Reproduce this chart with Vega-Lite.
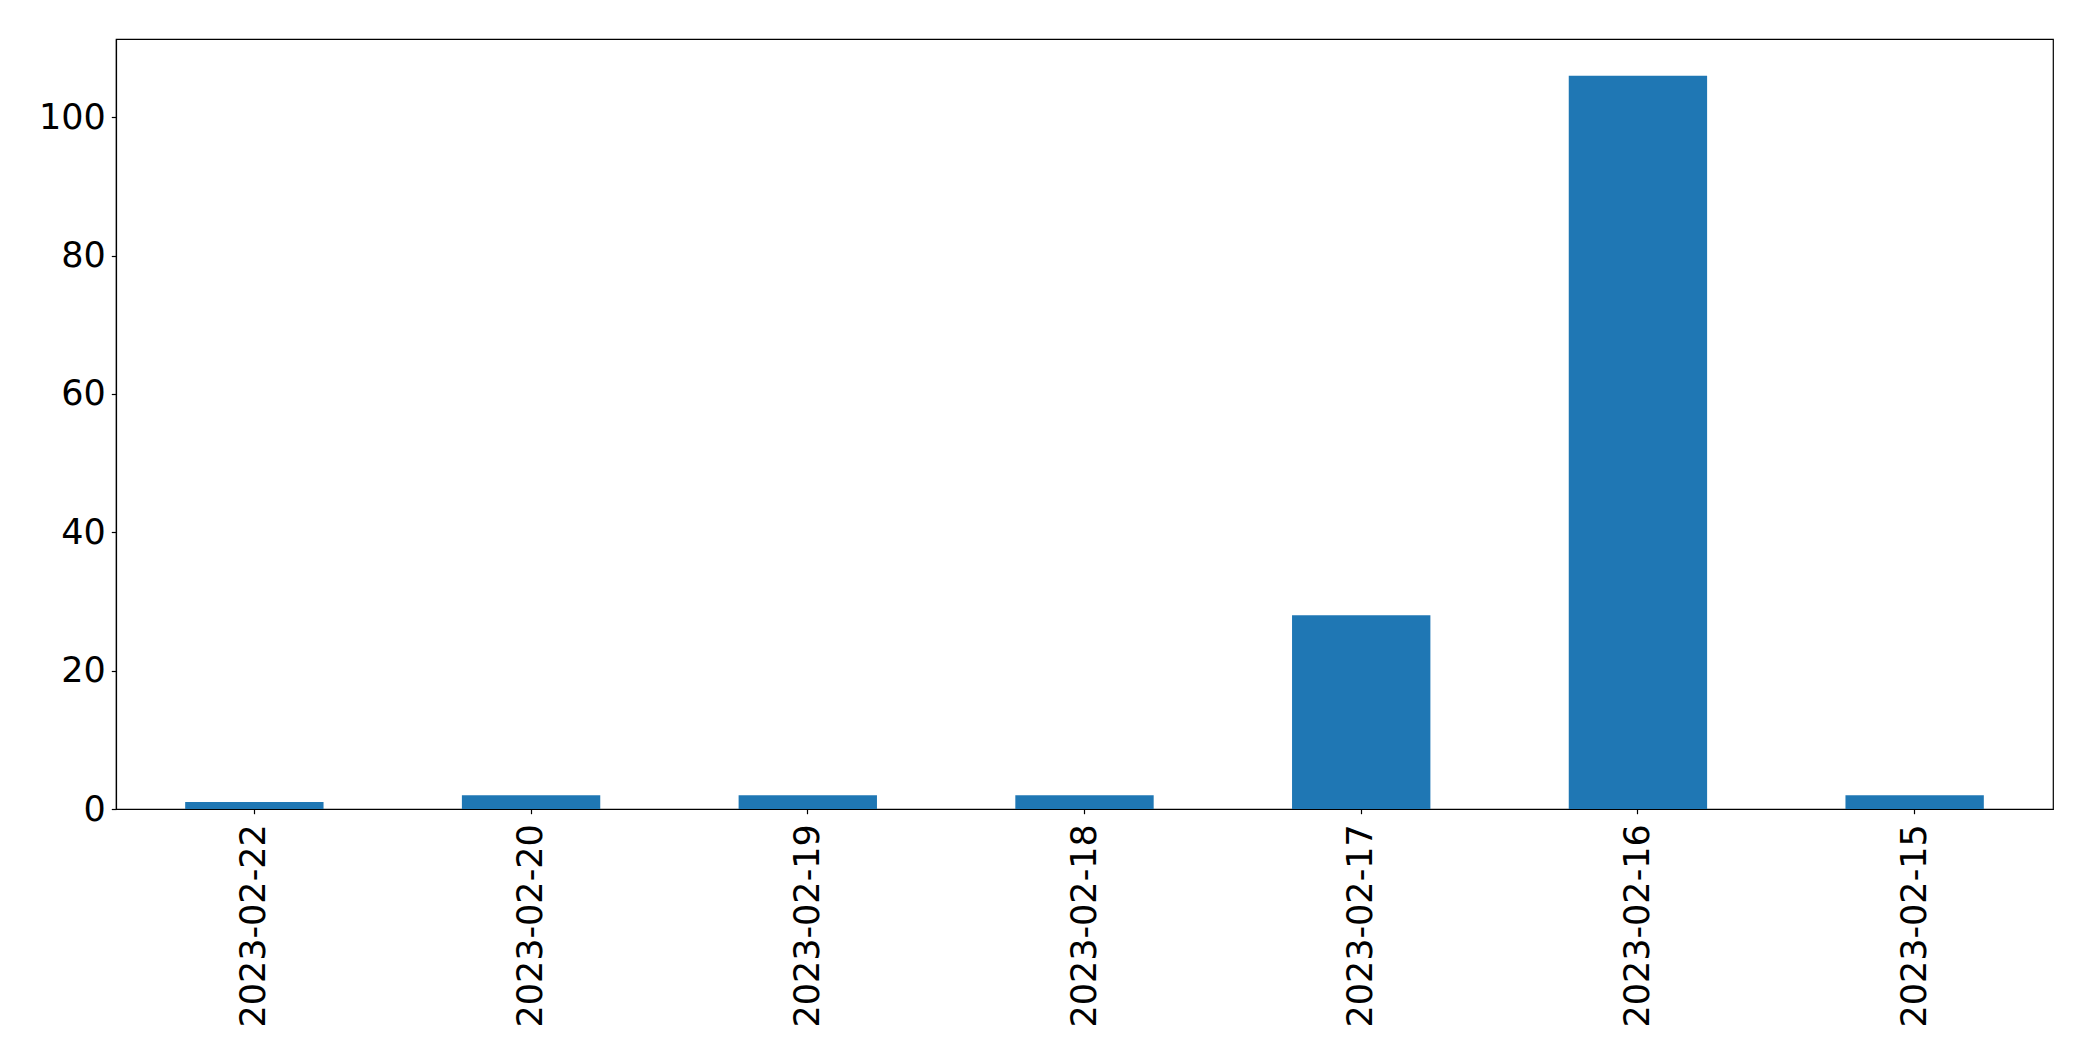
{
  "$schema": "https://vega.github.io/schema/vega-lite/v6.json",
  "autosize": {"type": "none"},
  "padding": {"left": 116, "top": 39, "right": 40, "bottom": 252},
  "width": 1937,
  "height": 770,
  "background": "white",
  "config": {
    "view": {"stroke": "black", "strokeWidth": 1.2},
    "axis": {
      "labelFont": "DejaVu Sans",
      "labelFontSize": 35,
      "labelColor": "black",
      "labelLimit": 0,
      "tickColor": "black",
      "domainColor": "black",
      "tickSize": 4.7,
      "tickWidth": 1.2,
      "domainWidth": 1.2,
      "grid": false,
      "title": null
    }
  },
  "data": {
    "values": [
      {"date": "2023-02-22", "count": 1},
      {"date": "2023-02-20", "count": 2},
      {"date": "2023-02-19", "count": 2},
      {"date": "2023-02-18", "count": 2},
      {"date": "2023-02-17", "count": 28},
      {"date": "2023-02-16", "count": 106},
      {"date": "2023-02-15", "count": 2}
    ]
  },
  "mark": {"type": "bar", "color": "#1f77b4"},
  "encoding": {
    "x": {
      "field": "date",
      "type": "nominal",
      "sort": null,
      "scale": {"paddingInner": 0.5, "paddingOuter": 0.25},
      "axis": {"labelAngle": -90, "labelPadding": 10, "labelAlign": "right", "labelBaseline": "middle"}
    },
    "y": {
      "field": "count",
      "type": "quantitative",
      "scale": {"domain": [0, 111.3], "nice": false, "zero": true},
      "axis": {"values": [0, 20, 40, 60, 80, 100], "labelPadding": 6}
    }
  }
}
